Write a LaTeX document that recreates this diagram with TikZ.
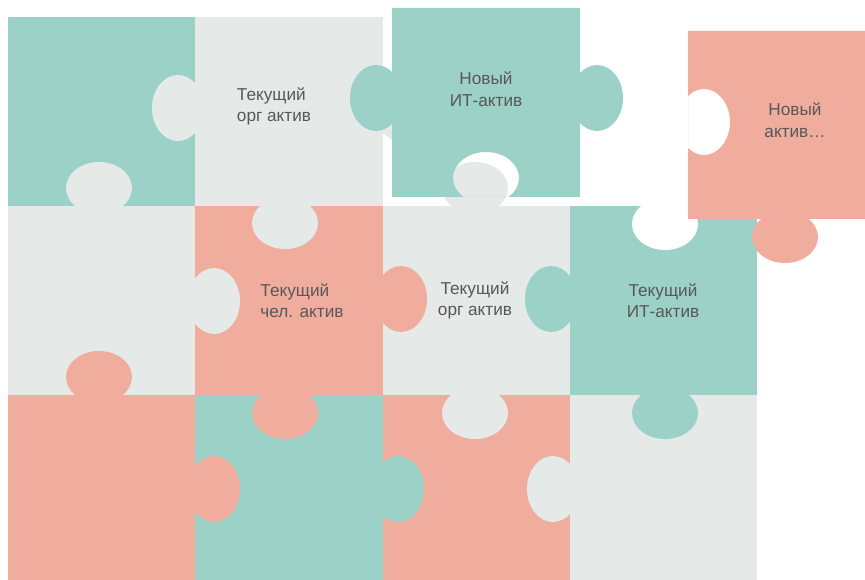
\documentclass[tikz,border=0pt]{standalone}
\usepackage{fontspec}
\setmainfont{Liberation Sans}
\definecolor{mint}{HTML}{9BD1C6}
\definecolor{paper}{HTML}{E5E9E7}
\definecolor{salmon}{HTML}{F0AD9E}
\definecolor{ink}{HTML}{585858}
\usetikzlibrary{positioning}

\begin{document}
\begin{tikzpicture}[
    x=1pt, y=-1pt,
    lbl/.style={font=\fontsize{17.2}{21.5}\selectfont, text=ink, align=center, inner sep=0pt},
    vknob/.style={x radius=26, y radius=33},
    hknob/.style={x radius=33, y radius=26}
]
\useasboundingbox (0,0) rectangle (865,580);
\clip (0,0) rectangle (865,580);

\foreach \i/\j/\c in {0/0/mint, 1/0/paper, 0/1/paper, 1/1/salmon, 2/1/paper,
    3/1/mint, 0/2/salmon, 1/2/mint, 2/2/salmon, 3/2/paper}
  \fill[\c] ({8+187.25*\i},{17+189*\j}) rectangle ++(187.25,189);

\foreach \x/\y/\c in {178/108/paper, 400/108/paper, 214/301/paper, 401/299/salmon,
    551/299/mint, 214/489/salmon, 398/489/mint, 553/489/paper}
  \fill[\c, vknob] (\x,\y) ellipse;
\foreach \x/\y/\c in {99/188/paper, 285/223/paper, 475/188/paper, 99/377/salmon,
    285/413/salmon, 475/413/paper, 665/413/mint, 665/224/white}
  \fill[\c, hknob] (\x,\y) ellipse;

% loose pieces
\begin{scope}
  \clip (392,8) rectangle (580,197);
  \fill[mint, even odd rule] (392,8) rectangle (580,197) (486,178) ellipse [x radius=33, y radius=26];
\end{scope}
\fill[mint, vknob] (376,98) ellipse;
\fill[mint, vknob] (597,98) ellipse;
\begin{scope}
  \clip (688,31) rectangle (875,219);
  \fill[salmon, even odd rule] (688,31) rectangle (875,219) (704,122) ellipse [x radius=26, y radius=33];
\end{scope}
\fill[salmon, hknob] (785,237) ellipse;

\node[lbl, align=left] (orgTop) at (274,106.5) {Текущий\\орг актив};
\node[lbl, align=left] (humCur) at (302,300.5) {Текущий\\чел. актив};
\node[lbl] (orgCur) at (475,300.5) {Текущий\\орг актив};
\node[lbl] (itCur) at (663,300.5) {Текущий\\ИТ-актив};
\node[lbl] (itNew) at (486,89) {Новый\\ИТ-актив};
\node[lbl] (anyNew) at (795,120) {Новый\\актив…};
\end{tikzpicture}
\end{document}
